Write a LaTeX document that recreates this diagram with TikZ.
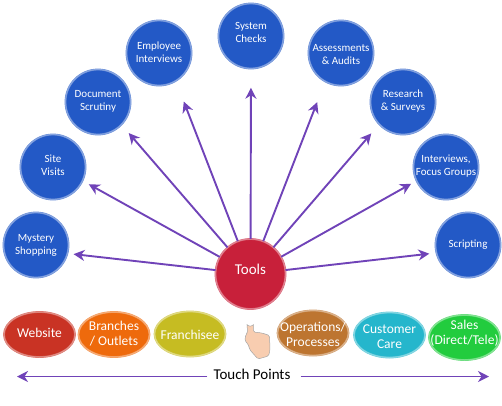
\documentclass[tikz,border=0pt]{standalone}
\usepackage{fontspec}
\setmainfont{Carlito}
\usetikzlibrary{arrows.meta,shapes.geometric}
\definecolor{toolblue}{HTML}{2359C6}
\definecolor{toolred}{HTML}{C8203A}
\definecolor{linkpurple}{HTML}{7043B8}
\definecolor{handskin}{HTML}{F8CDB0}
\definecolor{ovalred}{HTML}{C93324}
\definecolor{ovalorange}{HTML}{EE6A0C}
\definecolor{ovalolive}{HTML}{C6BC22}
\definecolor{ovalbrown}{HTML}{BD7530}
\definecolor{ovalcyan}{HTML}{25B6CC}
\definecolor{ovalgreen}{HTML}{22CC3E}
% text that does not widen its node, moved down by the optional length
\newcommand{\slimtext}[2][0pt]{\makebox[0pt]{\smash{\raisebox{-#1}{\begin{tabular}{@{}c@{}}#2\end{tabular}}}}}
\tikzset{
    toolcircle/.style={circle, draw=#1!70!white, double=#1!55!white, double distance=1pt, line width=0.4pt,
        fill=#1, minimum size=65pt, inner sep=0pt, text=white, font=\fontsize{11}{13}\selectfont},
    touchoval/.style={ellipse, draw=#1!70!white, double=#1!55!white, double distance=1pt, line width=0.4pt,
        fill=#1, minimum width=71pt, minimum height=45pt, inner sep=0pt, text=white, font=\fontsize{13.5}{15.5}\selectfont},
    toolarrow/.style={->, linkpurple, line width=1.9pt}
}
\begin{document}
\begin{tikzpicture}[x=1pt, y=-1pt, >={Stealth[length=11pt,width=11pt,inset=3.5pt]}]
    \useasboundingbox (0,0) rectangle (502,405);

    % 1. Fan of blue circles
    \node[toolcircle=toolblue] (mystery) at (36,245) {\slimtext[3pt]{Mystery\\Shopping}};
    \node[toolcircle=toolblue] (site) at (53,167) {\slimtext[2.5pt]{Site\\Visits}};
    \node[toolcircle=toolblue] (document) at (98,102) {\slimtext[2.5pt]{Document\\Scrutiny}};
    \node[toolcircle=toolblue] (employee) at (159,53) {\slimtext[3pt]{Employee\\Interviews}};
    \node[toolcircle=toolblue] (system) at (251,36) {\slimtext{System\\Checks}};
    \node[toolcircle=toolblue] (assess) at (341,53) {\slimtext[5pt]{Assessments\\\& Audits}};
    \node[toolcircle=toolblue] (research) at (403,102) {\slimtext[2.5pt]{Research\\\& Surveys}};
    \node[toolcircle=toolblue] (focus) at (446,167) {\slimtext[2.5pt]{Interviews,\\Focus Groups}};
    \node[toolcircle=toolblue] (scripting) at (468,245) {\slimtext[2.5pt]{Scripting}};

    % 2. Centre circle
    \node[toolcircle=toolred, minimum size=70pt, font=\fontsize{15}{17}\selectfont] (tools) at (250.5,274) {\slimtext[1pt]{Tools}};

    % 3. Arrows
    \draw[toolarrow, shorten >=6pt] (tools) -- (mystery.-15);
    \draw[toolarrow, shorten >=7pt] (tools) -- (site.-25);
    \draw[toolarrow, shorten >=11pt] (tools) -- (document.-44);
    \draw[toolarrow, shorten >=22pt] (tools) -- (employee.-59);
    \draw[toolarrow, shorten >=19pt] (tools) -- (system.-90);
    \draw[toolarrow, shorten >=22pt] (tools) -- (assess.-119);
    \draw[toolarrow, shorten >=12pt] (tools) -- (research.-137);
    \draw[toolarrow, shorten >=6pt] (tools) -- (focus.-155);
    \draw[toolarrow, shorten >=7pt] (tools) -- (scripting.-166);

    % 4. Touch point ovals
    \node[touchoval=ovalred] (website) at (39.5,334.5) {\slimtext[3pt]{Website}};
    \node[touchoval=ovalorange] (branches) at (114,334.5) {\slimtext[4pt]{Branches\\/ Outlets}};
    \node[touchoval=ovalolive] (franchisee) at (190,334) {\slimtext[5.5pt]{Franchisee}};
    \node[touchoval=ovalbrown] (operations) at (313,333) {\slimtext[6.5pt]{Operations/\\Processes}};
    \node[touchoval=ovalcyan] (customer) at (389.5,335) {\slimtext[6.5pt]{Customer\\Care}};
    \node[touchoval=ovalgreen] (sales) at (464.5,337.5) {\slimtext{Sales\\(Direct/Tele)}};

    % 5. Hand
    \draw[fill=handskin, draw=black!35, line width=0.5pt, rounded corners=1.5pt]
        (247,323) arc (180:0:3.2) -- (253.4,332) -- (262,333) -- (269.5,335.5) -- (270,350)
        -- (268.5,356) -- (258,359) -- (250,350) -- (248,344) -- (245,341) -- (245.5,335) -- (247.5,333) -- cycle;

    % 6. Bottom label and its arrows
    \coordinate (leftend) at (17,376.5);
    \coordinate (rightend) at (489,376.5);
    \node[inner xsep=6pt, inner ysep=0pt, font=\fontsize{15}{17}\selectfont] (touch) at (252,374) {Touch Points};
    \draw[toolarrow] (touch.west |- leftend) -- (leftend);
    \draw[toolarrow, shorten <=4pt] (touch.east |- rightend) -- (rightend);
\end{tikzpicture}
\end{document}
